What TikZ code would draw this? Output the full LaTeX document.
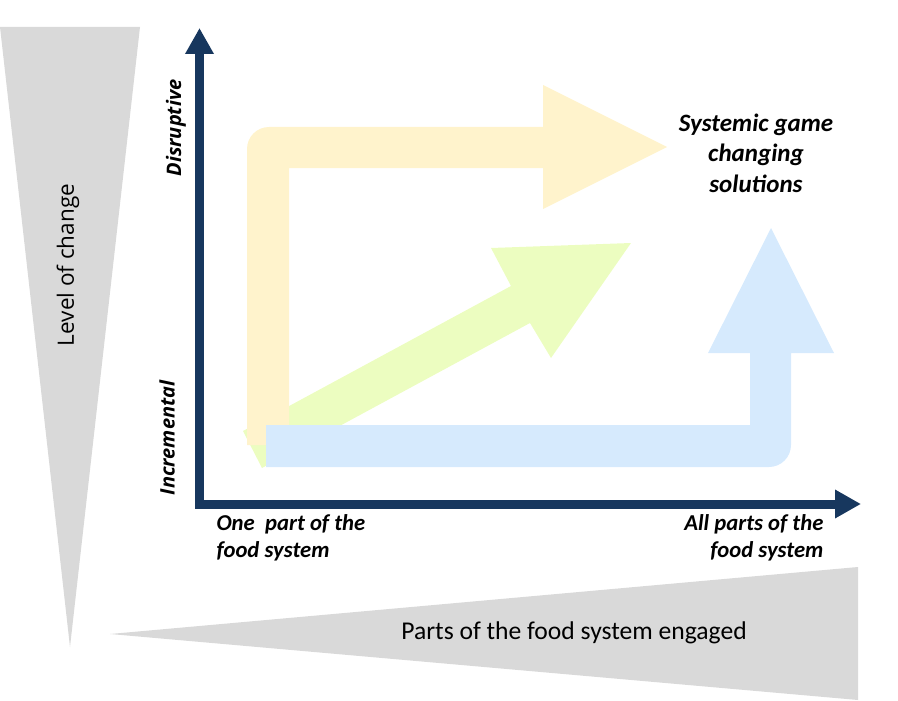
\documentclass[tikz,border=0pt]{standalone}
\usepackage{fontspec}
\setmainfont{Carlito}
\newfontfamily\widefont{Open Sans}
\usetikzlibrary{arrows.meta}

\definecolor{axisblue}{RGB}{23,55,94}
\definecolor{wedgegray}{RGB}{217,217,217}
\definecolor{pathyellow}{RGB}{255,243,204}
\definecolor{pathgreen}{RGB}{236,253,192}
\definecolor{pathblue}{RGB}{214,234,253}

\begin{document}
\begin{tikzpicture}[
    x=1pt, y=-1pt,
    wedge/.style={
        fill=wedgegray
    },
    axis/.style={
        draw=axisblue,
        line width=9pt,
        -{Triangle[length=26pt,width=27pt]}
    },
    axislabel/.style={
        rotate=90,
        font=\widefont\bfseries\itshape\fontsize{20}{24}\selectfont
    },
    endlabel/.style={
        font=\bfseries\itshape\fontsize{22.7}{27}\selectfont
    }
    ]

    \useasboundingbox (0,0) rectangle (898,701);

    % grey wedges
    \fill[wedge] (0,27) -- (140,27) -- (70,647) -- cycle;
    \fill[wedge] (858,567) -- (858,700) -- (110,634) -- cycle;
    \node[rotate=90, font=\widefont\fontsize{22.5}{26}\selectfont] (change) at (68,265) {Level of change};
    \node[font=\fontsize{25.6}{30}\selectfont] (engaged) at (574,633) {Parts of the food system engaged};

    % pathways
    \fill[pathgreen] (243,431) -- (511,286) -- (491,248) -- (631,243)
        -- (551,358) -- (530,323) -- (262,468) -- cycle;
    \fill[pathyellow] (247,445) -- (247,149) arc[start angle=180, end angle=270, radius=22]
        -- (543,127) -- (543,85) -- (667,147) -- (543,209) -- (543,168)
        -- (289,168) -- (289,445) -- cycle;
    \fill[pathblue] (266,425) -- (750,425) -- (750,353) -- (708,353) -- (771,228)
        -- (834,353) -- (791,353) -- (791,445) arc[start angle=0, end angle=90, radius=22]
        -- (266,467) -- cycle;

    % axes
    \coordinate (origin) at (199.5,504);
    \coordinate (ytip) at (199.5,28);
    \coordinate (xtip) at (861,504);
    \draw[axis] ([yshift=4pt]origin) -- (ytip);
    \draw[axis] ([xshift=-4.5pt]origin) -- (xtip);

    \node[axislabel] (disruptive) at (176,128) {Disruptive};
    \node[axislabel] (incremental) at (167,438) {Incremental};

    \node[endlabel, align=left, anchor=west] (onepart) at (213,538) {One\ \ part of the\\food system};
    \node[endlabel, align=right, anchor=east] (allparts) at (827,538) {All parts of the\\food system};
    \node[endlabel, align=center, font=\bfseries\itshape\fontsize{25}{30.5}\selectfont] (systemic) at (756,153) {Systemic game\\changing\\solutions};
\end{tikzpicture}
\end{document}
